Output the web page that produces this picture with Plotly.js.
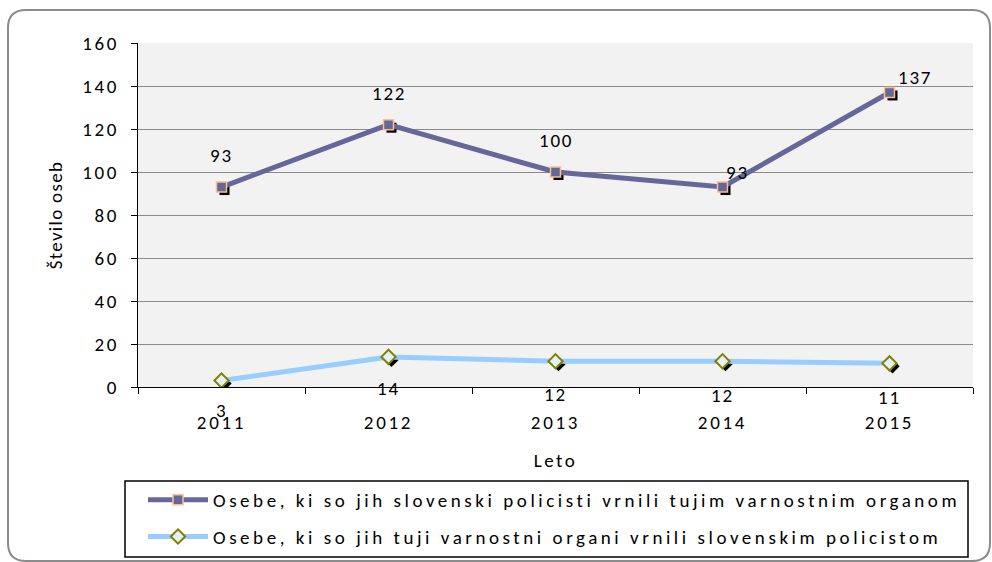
<!DOCTYPE html>
<html>
<head>
<meta charset="utf-8">
<script src="https://cdn.plot.ly/plotly-3.0.1.min.js"></script>
<style>
  html, body { margin: 0; padding: 0; background: #fff; }
  #chart { width: 992px; height: 562px; }
  g.xtick text, g.ytick text { letter-spacing: 2.7px; }
  text.legendtext { letter-spacing: 3.55px; }
  text.annotation-text { letter-spacing: 1.8px; }
  text.xtitle { letter-spacing: 2.5px; }
  text.ytitle { letter-spacing: 1.3px; }
</style>
</head>
<body>
<div id="chart"></div>
<script>
// ---- data ----
const years = ['2011', '2012', '2013', '2014', '2015'];
const returnedBySlovenian = [93, 122, 100, 93, 137];
const returnedToSlovenian = [3, 14, 12, 12, 11];
const seriesNames = [
  'Osebe, ki so jih slovenski policisti vrnili tujim varnostnim organom',
  'Osebe, ki so jih tuji varnostni organi vrnili slovenskim policistom'
];
const yTitle = 'Število oseb';
const xTitle = 'Leto';

// ---- styling / geometry ----
const W = 992, H = 562;
const M = {l: 138, r: 19, t: 43, b: 175, autoexpand: false};
const PW = W - M.l - M.r, PH = H - M.t - M.b;
const px = x => (x - M.l) / PW;
const py = y => (H - M.b - y) / PH;
const FONT = 'Carlito, Lato, "Open Sans", sans-serif';
const FS = 19;

// label offsets (px) per point
const lab1 = [[0, 32], [0, 31], [0, 32], [15, 15], [25, 15]];
const lab2 = [[0, -30], [0, -32], [0, -33], [0, -34], [0, -34]];

const shadowStyle = {color: '#000000', line: {width: 0}};

const traces = [
  {x: years, y: returnedBySlovenian, type: 'scatter', mode: 'markers',
   marker: Object.assign({symbol: 'square', size: 10}, shadowStyle),
   showlegend: false, hoverinfo: 'skip'},
  {x: years, y: returnedToSlovenian, type: 'scatter', mode: 'markers',
   marker: Object.assign({symbol: 'diamond', size: 11}, shadowStyle),
   showlegend: false, hoverinfo: 'skip'},
  {x: years, y: returnedBySlovenian, type: 'scatter', mode: 'lines+markers',
   name: seriesNames[0], legendgroup: 'a',
   line: {color: '#666699', width: 5},
   marker: {symbol: 'square', size: 10, color: '#666699', line: {color: '#FAC090', width: 1.5}}},
  {x: years, y: returnedToSlovenian, type: 'scatter', mode: 'lines+markers',
   name: seriesNames[1], legendgroup: 'b',
   line: {color: '#99CCFF', width: 5},
   marker: {symbol: 'diamond', size: 11, color: '#E6F0FA', line: {color: '#808000', width: 2}}}
];

const annotations = [];
years.forEach((yr, i) => {
  annotations.push({xref: 'x', yref: 'y', x: i, y: returnedBySlovenian[i],
    text: String(returnedBySlovenian[i]),
    showarrow: false, xshift: lab1[i][0], yshift: lab1[i][1],
    font: {family: FONT, size: FS, color: '#000000'}});
  annotations.push({xref: 'x', yref: 'y', x: i, y: returnedToSlovenian[i],
    text: String(returnedToSlovenian[i]),
    showarrow: false, xshift: lab2[i][0], yshift: lab2[i][1],
    font: {family: FONT, size: FS, color: '#000000'}});
});

const r = 18, fx0 = 8, fx1 = 990, fy0 = 10, fy1 = 561;
const framePath =
  `M${px(fx0 + r)},${py(fy0)} L${px(fx1 - r)},${py(fy0)} Q${px(fx1)},${py(fy0)} ${px(fx1)},${py(fy0 + r)} ` +
  `L${px(fx1)},${py(fy1 - r)} Q${px(fx1)},${py(fy1)} ${px(fx1 - r)},${py(fy1)} ` +
  `L${px(fx0 + r)},${py(fy1)} Q${px(fx0)},${py(fy1)} ${px(fx0)},${py(fy1 - r)} ` +
  `L${px(fx0)},${py(fy0 + r)} Q${px(fx0)},${py(fy0)} ${px(fx0 + r)},${py(fy0)} Z`;

const layout = {
  width: W, height: H,
  margin: M,
  paper_bgcolor: '#ffffff',
  plot_bgcolor: '#f2f2f2',
  font: {family: FONT, size: FS, color: '#000'},
  showlegend: true,
  xaxis: {
    type: 'category', categoryorder: 'array', categoryarray: years,
    range: [-0.5, 4.5], tickson: 'boundaries',
    ticks: 'outside', ticklen: 6, tickcolor: '#000', tickwidth: 1,
    showline: true, linecolor: '#000', linewidth: 1,
    showgrid: false, zeroline: false,
    ticklabelstandoff: 18,
    tickfont: {family: FONT, size: FS, color: '#000'},
    title: {text: xTitle, standoff: 20, font: {family: FONT, size: FS, color: '#000'}},
    fixedrange: true
  },
  yaxis: {
    range: [0, 160], dtick: 20, tick0: 0,
    ticks: 'outside', ticklen: 6, tickcolor: '#000', tickwidth: 1,
    showline: true, linecolor: '#000', linewidth: 1,
    showgrid: true, gridcolor: '#8a8a8a', gridwidth: 1, zeroline: false,
    ticklabelstandoff: 8,
    tickfont: {family: FONT, size: FS, color: '#000'},
    title: {text: yTitle, standoff: 14, font: {family: FONT, size: 19, color: '#000'}},
    fixedrange: true
  },
  legend: {
    x: px(143), y: py(481), xanchor: 'left', yanchor: 'top',
    bgcolor: 'rgba(0,0,0,0)', borderwidth: 0,
    font: {family: FONT, size: FS, color: '#000'},
    traceorder: 'grouped', tracegroupgap: 9, itemwidth: 60
  },
  annotations: annotations,
  shapes: [
    {type: 'path', xref: 'paper', yref: 'paper', path: framePath,
     line: {color: '#8c8c8c', width: 2}, fillcolor: 'rgba(0,0,0,0)', layer: 'above'},
    {type: 'rect', xref: 'paper', yref: 'paper',
     x0: px(125), x1: px(968), y0: py(557), y1: py(481),
     line: {color: '#000', width: 1.5}, fillcolor: 'rgba(0,0,0,0)', layer: 'above'}
  ]
};

Plotly.newPlot('chart', traces, layout, {displayModeBar: false, staticPlot: true}).then(gd => {
  const groups = gd.querySelectorAll('.scatterlayer .trace');
  [0, 1].forEach(i => { if (groups[i]) groups[i].setAttribute('transform', 'translate(3,3)'); });
});
</script>
</body>
</html>
